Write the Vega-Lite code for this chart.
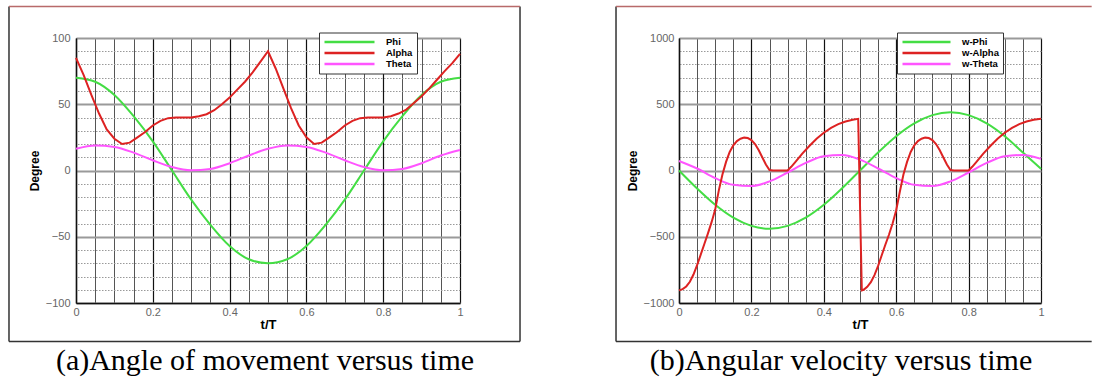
{
  "$schema": "https://vega.github.io/schema/vega-lite/v6.json",
  "padding": {"left": 8, "top": 5, "right": 0, "bottom": 0},
  "autosize": {"type": "pad"},
  "spacing": 94,
  "resolve": {"scale": {"color": "independent"}, "legend": {"color": "independent"}},
  "config": {
    "view": {"stroke": null},
    "font": "Liberation Sans",
    "axis": {"labelFont": "Liberation Sans", "titleFont": "Liberation Sans"},
    "legend": {"orient": "none", "title": null, "direction": "vertical", "fillColor": "#fff", "strokeColor": "#333", "padding": 4, "symbolType": "M-1,0H11.5", "symbolSize": 64, "symbolStrokeWidth": 2.5, "labelFont": "Liberation Sans", "labelFontSize": 9.5, "labelFontWeight": "bold", "labelColor": "#000", "labelAlign": "left", "labelOffset": 52, "rowPadding": -1.5}
  },
  "hconcat": [
    {
      "width": 384,
      "height": 265,
      "title": {"text": "(a)Angle of movement versus time", "orient": "bottom", "anchor": "middle", "font": "Liberation Serif", "fontSize": 30, "fontWeight": "normal", "color": "#000", "offset": 4, "dx": -3},
      "data": {"values": [
        {"s": "Phi", "t": 0, "v": 70}, {"s": "Phi", "t": 0.05, "v": 67}, {"s": "Phi", "t": 0.1, "v": 57}, {"s": "Phi", "t": 0.15, "v": 41}, {"s": "Phi", "t": 0.2, "v": 22}, {"s": "Phi", "t": 0.25, "v": 0}, {"s": "Phi", "t": 0.3, "v": -22}, {"s": "Phi", "t": 0.35, "v": -41}, {"s": "Phi", "t": 0.4, "v": -57}, {"s": "Phi", "t": 0.45, "v": -67}, {"s": "Phi", "t": 0.5, "v": -70}, {"s": "Phi", "t": 0.55, "v": -67}, {"s": "Phi", "t": 0.6, "v": -57}, {"s": "Phi", "t": 0.65, "v": -41}, {"s": "Phi", "t": 0.7, "v": -22}, {"s": "Phi", "t": 0.75, "v": 0}, {"s": "Phi", "t": 0.8, "v": 22}, {"s": "Phi", "t": 0.85, "v": 41}, {"s": "Phi", "t": 0.9, "v": 57}, {"s": "Phi", "t": 0.95, "v": 67}, {"s": "Phi", "t": 1, "v": 70},
        {"s": "Theta", "t": 0, "v": 16.4}, {"s": "Theta", "t": 0.05, "v": 18.9}, {"s": "Theta", "t": 0.1, "v": 17.8}, {"s": "Theta", "t": 0.15, "v": 13.5}, {"s": "Theta", "t": 0.2, "v": 7.7}, {"s": "Theta", "t": 0.25, "v": 2.6}, {"s": "Theta", "t": 0.3, "v": 0.1}, {"s": "Theta", "t": 0.35, "v": 1.2}, {"s": "Theta", "t": 0.4, "v": 5.5}, {"s": "Theta", "t": 0.45, "v": 11.3}, {"s": "Theta", "t": 0.5, "v": 16.4}, {"s": "Theta", "t": 0.55, "v": 18.9}, {"s": "Theta", "t": 0.6, "v": 17.8}, {"s": "Theta", "t": 0.65, "v": 13.5}, {"s": "Theta", "t": 0.7, "v": 7.7}, {"s": "Theta", "t": 0.75, "v": 2.6}, {"s": "Theta", "t": 0.8, "v": 0.1}, {"s": "Theta", "t": 0.85, "v": 1.2}, {"s": "Theta", "t": 0.9, "v": 5.5}, {"s": "Theta", "t": 0.95, "v": 11.3}, {"s": "Theta", "t": 1, "v": 15.5},
        {"s": "Alpha", "t": 0, "v": 85}, {"s": "Alpha", "t": 0.02, "v": 72}, {"s": "Alpha", "t": 0.04, "v": 57}, {"s": "Alpha", "t": 0.06, "v": 43}, {"s": "Alpha", "t": 0.08, "v": 31}, {"s": "Alpha", "t": 0.1, "v": 24}, {"s": "Alpha", "t": 0.12, "v": 20}, {"s": "Alpha", "t": 0.14, "v": 21}, {"s": "Alpha", "t": 0.16, "v": 25}, {"s": "Alpha", "t": 0.18, "v": 29}, {"s": "Alpha", "t": 0.2, "v": 34}, {"s": "Alpha", "t": 0.22, "v": 37.5}, {"s": "Alpha", "t": 0.24, "v": 39.5}, {"s": "Alpha", "t": 0.26, "v": 40}, {"s": "Alpha", "t": 0.3, "v": 40}, {"s": "Alpha", "t": 0.32, "v": 41}, {"s": "Alpha", "t": 0.34, "v": 42.5}, {"s": "Alpha", "t": 0.36, "v": 45.5}, {"s": "Alpha", "t": 0.38, "v": 50}, {"s": "Alpha", "t": 0.4, "v": 55}, {"s": "Alpha", "t": 0.42, "v": 61}, {"s": "Alpha", "t": 0.44, "v": 67}, {"s": "Alpha", "t": 0.46, "v": 74}, {"s": "Alpha", "t": 0.48, "v": 82}, {"s": "Alpha", "t": 0.5, "v": 90}, {"s": "Alpha", "t": 0.52, "v": 77}, {"s": "Alpha", "t": 0.54, "v": 62}, {"s": "Alpha", "t": 0.56, "v": 47}, {"s": "Alpha", "t": 0.58, "v": 34}, {"s": "Alpha", "t": 0.6, "v": 25}, {"s": "Alpha", "t": 0.62, "v": 20}, {"s": "Alpha", "t": 0.64, "v": 21}, {"s": "Alpha", "t": 0.66, "v": 25}, {"s": "Alpha", "t": 0.68, "v": 29}, {"s": "Alpha", "t": 0.7, "v": 34}, {"s": "Alpha", "t": 0.72, "v": 37.5}, {"s": "Alpha", "t": 0.74, "v": 39.5}, {"s": "Alpha", "t": 0.76, "v": 40}, {"s": "Alpha", "t": 0.8, "v": 40}, {"s": "Alpha", "t": 0.82, "v": 41}, {"s": "Alpha", "t": 0.84, "v": 43}, {"s": "Alpha", "t": 0.86, "v": 46}, {"s": "Alpha", "t": 0.88, "v": 51}, {"s": "Alpha", "t": 0.9, "v": 56}, {"s": "Alpha", "t": 0.92, "v": 62}, {"s": "Alpha", "t": 0.94, "v": 68.5}, {"s": "Alpha", "t": 0.96, "v": 75}, {"s": "Alpha", "t": 0.98, "v": 81}, {"s": "Alpha", "t": 1, "v": 88}
      ]},
      "resolve": {"axis": {"x": "independent", "y": "independent"}},
      "layer": [
        {
          "data": {"values": [{}]},
          "mark": {"type": "rule", "color": "#333", "strokeWidth": 1.5},
          "encoding": {
            "x": {"datum": -0.1745, "type": "quantitative", "scale": {"domain": [0, 1]},
              "axis": {"orient": "top", "values": [0.05, 0.1, 0.15, 0.25, 0.3, 0.35, 0.45, 0.5, 0.55, 0.65, 0.7, 0.75, 0.85, 0.9, 0.95], "grid": true, "gridColor": "#555", "gridWidth": 1, "gridOpacity": 1, "domain": false, "ticks": false, "labels": false, "title": null}},
            "y": {"datum": 123.8, "type": "quantitative", "scale": {"domain": [-100, 100]},
              "axis": {"orient": "right", "values": [-90, -80, -70, -60, -40, -30, -20, -10, 10, 20, 30, 40, 60, 70, 80, 90], "grid": true, "gridColor": "#999", "gridDash": [1.5, 1.5], "gridWidth": 1, "gridOpacity": 1, "domain": false, "ticks": false, "labels": false, "title": null}},
            "y2": {"datum": -129.1}
          }
        },
        {
          "data": {"values": [{}]},
          "mark": {"type": "rule", "color": "#333", "strokeWidth": 1.5},
          "encoding": {
            "x": {"datum": -0.1745, "type": "quantitative", "scale": {"domain": [0, 1]}, "axis": null},
            "x2": {"datum": 1.1563},
            "y": {"datum": -129.1, "type": "quantitative", "scale": {"domain": [-100, 100]}, "axis": null}
          }
        },
        {
          "data": {"values": [{}]},
          "mark": {"type": "rule", "color": "#333", "strokeWidth": 1.5},
          "encoding": {
            "x": {"datum": 1.1563, "type": "quantitative", "scale": {"domain": [0, 1]}, "axis": null},
            "y": {"datum": 123.8, "type": "quantitative", "scale": {"domain": [-100, 100]}, "axis": null},
            "y2": {"datum": -129.1}
          }
        },
        {
          "data": {"values": [{}]},
          "mark": {"type": "rule", "color": "#b86a6a", "strokeWidth": 1.5},
          "encoding": {
            "x": {"datum": -0.1745, "type": "quantitative", "scale": {"domain": [0, 1]}, "axis": null},
            "x2": {"datum": 1.1563},
            "y": {"datum": 123.8, "type": "quantitative", "scale": {"domain": [-100, 100]}, "axis": null}
          }
        },
        {
          "transform": [{"filter": "datum.s !== 'Alpha'"}],
          "mark": {"type": "line", "interpolate": "monotone", "strokeWidth": 2},
          "encoding": {
            "x": {"field": "t", "type": "quantitative", "scale": {"domain": [0, 1]},
              "axis": {"orient": "bottom", "values": [0, 0.2, 0.4, 0.6, 0.8, 1], "format": "~g", "grid": true, "gridColor": "#111", "gridWidth": 1.2, "gridOpacity": 1, "domain": true, "domainColor": "#111", "domainWidth": 1.5, "ticks": false, "labelFontSize": 11, "labelColor": "#666", "labelPadding": 3, "labelFlush": false, "title": "t/T", "titleFontSize": 13, "titleFontWeight": "bold", "titleColor": "#000", "titlePadding": 1}},
            "y": {"field": "v", "type": "quantitative", "scale": {"domain": [-100, 100]},
              "axis": {"orient": "left", "values": [-100, -50, 0, 50, 100], "format": "d", "grid": true, "gridColor": "#9a9a9a", "gridWidth": 2, "gridOpacity": 1, "domain": true, "domainColor": "#111", "domainWidth": 1.5, "ticks": false, "labelFontSize": 11, "labelColor": "#666", "labelPadding": 6, "title": "Degree", "titleFontSize": 12, "titleFontWeight": "bold", "titleColor": "#000", "titlePadding": 4}},
            "color": {"field": "s", "type": "nominal", "scale": {"domain": ["Phi", "Alpha", "Theta"], "range": ["#44dd44", "#dd2222", "#ff55ff"]},
              "legend": {"legendX": 243, "legendY": -5.5, "labelAlign": "left"}}
          }
        },
        {
          "transform": [{"filter": "datum.s === 'Alpha'"}],
          "mark": {"type": "line", "interpolate": "linear", "strokeWidth": 2},
          "encoding": {
            "x": {"field": "t", "type": "quantitative", "scale": {"domain": [0, 1]}, "axis": null},
            "y": {"field": "v", "type": "quantitative", "scale": {"domain": [-100, 100]}, "axis": null},
            "color": {"field": "s", "type": "nominal", "scale": {"domain": ["Phi", "Alpha", "Theta"], "range": ["#44dd44", "#dd2222", "#ff55ff"]},
              "legend": {"legendX": 243, "legendY": -5.5, "labelAlign": "left"}}
          }
        }
      ]
    },
    {
      "width": 362,
      "height": 265,
      "title": {"text": "(b)Angular velocity versus time", "orient": "bottom", "anchor": "middle", "font": "Liberation Serif", "fontSize": 30, "fontWeight": "normal", "color": "#000", "offset": 4, "dx": -19},
      "data": {"values": [
        {"s": "w-Phi", "t": 0, "v": 0}, {"s": "w-Phi", "t": 0.05, "v": -136}, {"s": "w-Phi", "t": 0.1, "v": -259}, {"s": "w-Phi", "t": 0.15, "v": -356}, {"s": "w-Phi", "t": 0.2, "v": -418}, {"s": "w-Phi", "t": 0.25, "v": -440}, {"s": "w-Phi", "t": 0.3, "v": -418}, {"s": "w-Phi", "t": 0.35, "v": -356}, {"s": "w-Phi", "t": 0.4, "v": -259}, {"s": "w-Phi", "t": 0.45, "v": -136}, {"s": "w-Phi", "t": 0.5, "v": 0}, {"s": "w-Phi", "t": 0.55, "v": 136}, {"s": "w-Phi", "t": 0.6, "v": 259}, {"s": "w-Phi", "t": 0.65, "v": 356}, {"s": "w-Phi", "t": 0.7, "v": 418}, {"s": "w-Phi", "t": 0.75, "v": 440}, {"s": "w-Phi", "t": 0.8, "v": 418}, {"s": "w-Phi", "t": 0.85, "v": 356}, {"s": "w-Phi", "t": 0.9, "v": 259}, {"s": "w-Phi", "t": 0.95, "v": 136}, {"s": "w-Phi", "t": 1, "v": 12},
        {"s": "w-Theta", "t": 0, "v": 72}, {"s": "w-Theta", "t": 0.05, "v": 15}, {"s": "w-Theta", "t": 0.1, "v": -57}, {"s": "w-Theta", "t": 0.15, "v": -108}, {"s": "w-Theta", "t": 0.2, "v": -117}, {"s": "w-Theta", "t": 0.25, "v": -82}, {"s": "w-Theta", "t": 0.3, "v": -15}, {"s": "w-Theta", "t": 0.35, "v": 57}, {"s": "w-Theta", "t": 0.4, "v": 108}, {"s": "w-Theta", "t": 0.45, "v": 117}, {"s": "w-Theta", "t": 0.5, "v": 82}, {"s": "w-Theta", "t": 0.55, "v": 15}, {"s": "w-Theta", "t": 0.6, "v": -57}, {"s": "w-Theta", "t": 0.65, "v": -108}, {"s": "w-Theta", "t": 0.7, "v": -117}, {"s": "w-Theta", "t": 0.75, "v": -82}, {"s": "w-Theta", "t": 0.8, "v": -15}, {"s": "w-Theta", "t": 0.85, "v": 57}, {"s": "w-Theta", "t": 0.9, "v": 108}, {"s": "w-Theta", "t": 0.95, "v": 117}, {"s": "w-Theta", "t": 1, "v": 88},
        {"s": "w-Alpha", "t": 0, "v": -905}, {"s": "w-Alpha", "t": 0.01, "v": -895}, {"s": "w-Alpha", "t": 0.02, "v": -875}, {"s": "w-Alpha", "t": 0.03, "v": -840}, {"s": "w-Alpha", "t": 0.04, "v": -785}, {"s": "w-Alpha", "t": 0.05, "v": -715}, {"s": "w-Alpha", "t": 0.06, "v": -635}, {"s": "w-Alpha", "t": 0.07, "v": -555}, {"s": "w-Alpha", "t": 0.08, "v": -475}, {"s": "w-Alpha", "t": 0.09, "v": -390}, {"s": "w-Alpha", "t": 0.1, "v": -295}, {"s": "w-Alpha", "t": 0.11, "v": -150}, {"s": "w-Alpha", "t": 0.12, "v": -30}, {"s": "w-Alpha", "t": 0.13, "v": 65}, {"s": "w-Alpha", "t": 0.14, "v": 140}, {"s": "w-Alpha", "t": 0.15, "v": 190}, {"s": "w-Alpha", "t": 0.16, "v": 222}, {"s": "w-Alpha", "t": 0.17, "v": 240}, {"s": "w-Alpha", "t": 0.18, "v": 248}, {"s": "w-Alpha", "t": 0.19, "v": 245}, {"s": "w-Alpha", "t": 0.2, "v": 230}, {"s": "w-Alpha", "t": 0.21, "v": 200}, {"s": "w-Alpha", "t": 0.22, "v": 155}, {"s": "w-Alpha", "t": 0.23, "v": 100}, {"s": "w-Alpha", "t": 0.24, "v": 45}, {"s": "w-Alpha", "t": 0.25, "v": 3}, {"s": "w-Alpha", "t": 0.26, "v": 0}, {"s": "w-Alpha", "t": 0.3, "v": 0}, {"s": "w-Alpha", "t": 0.31, "v": 28}, {"s": "w-Alpha", "t": 0.32, "v": 60}, {"s": "w-Alpha", "t": 0.34, "v": 125}, {"s": "w-Alpha", "t": 0.36, "v": 185}, {"s": "w-Alpha", "t": 0.38, "v": 240}, {"s": "w-Alpha", "t": 0.4, "v": 285}, {"s": "w-Alpha", "t": 0.42, "v": 322}, {"s": "w-Alpha", "t": 0.44, "v": 350}, {"s": "w-Alpha", "t": 0.46, "v": 370}, {"s": "w-Alpha", "t": 0.48, "v": 383}, {"s": "w-Alpha", "t": 0.495, "v": 390}, {"s": "w-Alpha", "t": 0.505, "v": -905}, {"s": "w-Alpha", "t": 0.51, "v": -900}, {"s": "w-Alpha", "t": 0.52, "v": -878}, {"s": "w-Alpha", "t": 0.53, "v": -843}, {"s": "w-Alpha", "t": 0.54, "v": -790}, {"s": "w-Alpha", "t": 0.55, "v": -720}, {"s": "w-Alpha", "t": 0.56, "v": -640}, {"s": "w-Alpha", "t": 0.57, "v": -560}, {"s": "w-Alpha", "t": 0.58, "v": -485}, {"s": "w-Alpha", "t": 0.59, "v": -400}, {"s": "w-Alpha", "t": 0.6, "v": -300}, {"s": "w-Alpha", "t": 0.61, "v": -160}, {"s": "w-Alpha", "t": 0.62, "v": -30}, {"s": "w-Alpha", "t": 0.63, "v": 65}, {"s": "w-Alpha", "t": 0.64, "v": 140}, {"s": "w-Alpha", "t": 0.65, "v": 190}, {"s": "w-Alpha", "t": 0.66, "v": 222}, {"s": "w-Alpha", "t": 0.67, "v": 240}, {"s": "w-Alpha", "t": 0.68, "v": 248}, {"s": "w-Alpha", "t": 0.69, "v": 245}, {"s": "w-Alpha", "t": 0.7, "v": 230}, {"s": "w-Alpha", "t": 0.71, "v": 200}, {"s": "w-Alpha", "t": 0.72, "v": 155}, {"s": "w-Alpha", "t": 0.73, "v": 100}, {"s": "w-Alpha", "t": 0.74, "v": 45}, {"s": "w-Alpha", "t": 0.75, "v": 3}, {"s": "w-Alpha", "t": 0.76, "v": 0}, {"s": "w-Alpha", "t": 0.8, "v": 0}, {"s": "w-Alpha", "t": 0.81, "v": 28}, {"s": "w-Alpha", "t": 0.82, "v": 60}, {"s": "w-Alpha", "t": 0.84, "v": 125}, {"s": "w-Alpha", "t": 0.86, "v": 185}, {"s": "w-Alpha", "t": 0.88, "v": 240}, {"s": "w-Alpha", "t": 0.9, "v": 285}, {"s": "w-Alpha", "t": 0.92, "v": 322}, {"s": "w-Alpha", "t": 0.94, "v": 350}, {"s": "w-Alpha", "t": 0.96, "v": 370}, {"s": "w-Alpha", "t": 0.98, "v": 383}, {"s": "w-Alpha", "t": 1, "v": 390}
      ]},
      "resolve": {"axis": {"x": "independent", "y": "independent"}},
      "layer": [
        {
          "data": {"values": [{}]},
          "mark": {"type": "rule", "color": "#333", "strokeWidth": 1.5},
          "encoding": {
            "x": {"datum": -0.174, "type": "quantitative", "scale": {"domain": [0, 1]},
              "axis": {"orient": "top", "values": [0.05, 0.1, 0.15, 0.25, 0.3, 0.35, 0.45, 0.5, 0.55, 0.65, 0.7, 0.75, 0.85, 0.9, 0.95], "grid": true, "gridColor": "#555", "gridWidth": 1, "gridOpacity": 1, "domain": false, "ticks": false, "labels": false, "title": null}},
            "y": {"datum": 1237.7, "type": "quantitative", "scale": {"domain": [-1000, 1000]},
              "axis": {"orient": "right", "values": [-900, -800, -700, -600, -400, -300, -200, -100, 100, 200, 300, 400, 600, 700, 800, 900], "grid": true, "gridColor": "#999", "gridDash": [1.5, 1.5], "gridWidth": 1, "gridOpacity": 1, "domain": false, "ticks": false, "labels": false, "title": null}},
            "y2": {"datum": -1290.6}
          }
        },
        {
          "data": {"values": [{}]},
          "mark": {"type": "rule", "color": "#333", "strokeWidth": 1.5},
          "encoding": {
            "x": {"datum": -0.174, "type": "quantitative", "scale": {"domain": [0, 1]}, "axis": null},
            "x2": {"datum": 1.14},
            "y": {"datum": -1290.6, "type": "quantitative", "scale": {"domain": [-1000, 1000]}, "axis": null}
          }
        },
        {
          "data": {"values": [{}]},
          "mark": {"type": "rule", "color": "#b86a6a", "strokeWidth": 1.5},
          "encoding": {
            "x": {"datum": -0.174, "type": "quantitative", "scale": {"domain": [0, 1]}, "axis": null},
            "x2": {"datum": 1.14},
            "y": {"datum": 1237.7, "type": "quantitative", "scale": {"domain": [-1000, 1000]}, "axis": null}
          }
        },
        {
          "transform": [{"filter": "datum.s !== 'w-Alpha'"}],
          "mark": {"type": "line", "interpolate": "monotone", "strokeWidth": 2},
          "encoding": {
            "x": {"field": "t", "type": "quantitative", "scale": {"domain": [0, 1]},
              "axis": {"orient": "bottom", "values": [0, 0.2, 0.4, 0.6, 0.8, 1], "format": "~g", "grid": true, "gridColor": "#111", "gridWidth": 1.2, "gridOpacity": 1, "domain": true, "domainColor": "#111", "domainWidth": 1.5, "ticks": false, "labelFontSize": 11, "labelColor": "#666", "labelPadding": 3, "labelFlush": false, "title": "t/T", "titleFontSize": 13, "titleFontWeight": "bold", "titleColor": "#000", "titlePadding": 1}},
            "y": {"field": "v", "type": "quantitative", "scale": {"domain": [-1000, 1000]},
              "axis": {"orient": "left", "values": [-1000, -500, 0, 500, 1000], "format": "d", "grid": true, "gridColor": "#9a9a9a", "gridWidth": 2, "gridOpacity": 1, "domain": true, "domainColor": "#111", "domainWidth": 1.5, "ticks": false, "labelFontSize": 11, "labelColor": "#666", "labelPadding": 5, "title": "Degree", "titleFontSize": 12, "titleFontWeight": "bold", "titleColor": "#000", "titlePadding": 4}},
            "color": {"field": "s", "type": "nominal", "scale": {"domain": ["w-Phi", "w-Alpha", "w-Theta"], "range": ["#44dd44", "#dd2222", "#ff55ff"]},
              "legend": {"legendX": 218, "legendY": -5.5, "labelAlign": "left", "symbolType": "M-1,0H11", "labelOffset": 50}}
          }
        },
        {
          "transform": [{"filter": "datum.s === 'w-Alpha'"}],
          "mark": {"type": "line", "interpolate": "linear", "strokeWidth": 2},
          "encoding": {
            "x": {"field": "t", "type": "quantitative", "scale": {"domain": [0, 1]}, "axis": null},
            "y": {"field": "v", "type": "quantitative", "scale": {"domain": [-1000, 1000]}, "axis": null},
            "color": {"field": "s", "type": "nominal", "scale": {"domain": ["w-Phi", "w-Alpha", "w-Theta"], "range": ["#44dd44", "#dd2222", "#ff55ff"]},
              "legend": {"legendX": 218, "legendY": -5.5, "labelAlign": "left", "symbolType": "M-1,0H11", "labelOffset": 50}}
          }
        }
      ]
    }
  ]
}
